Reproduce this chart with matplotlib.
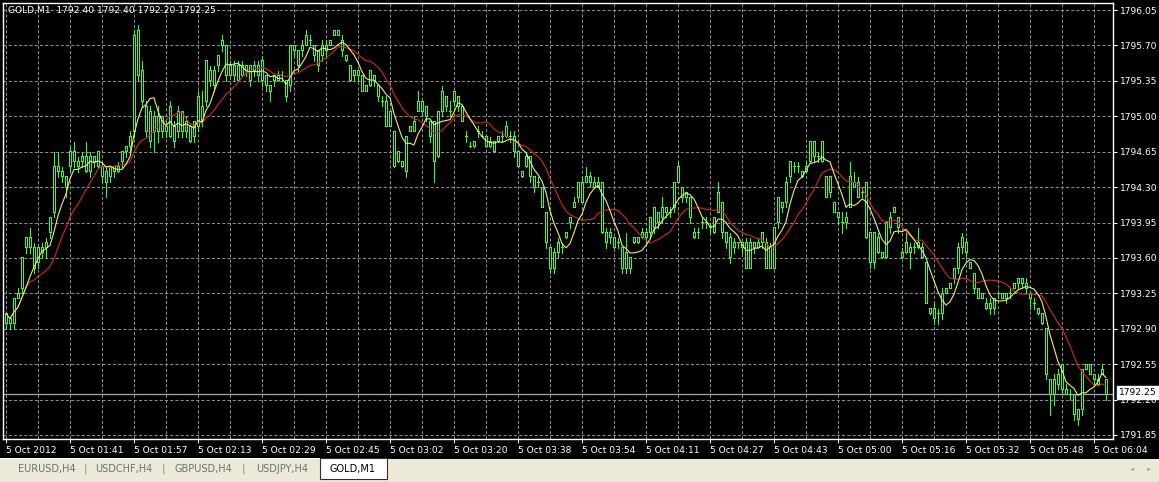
import numpy as np
import pandas as pd
import matplotlib
matplotlib.use("Agg")
import matplotlib.pyplot as plt
from matplotlib.patches import Rectangle

# GOLD M1 bars (one per minute)
opens = [
    1792.95, 1793.00, 1792.95, 1793.20, 1793.30, 1793.70, 1793.80, 1793.70, 1793.55, 1793.65,
    1793.70, 1793.85, 1794.05, 1794.50, 1794.45, 1794.40, 1794.50, 1794.65, 1794.55, 1794.55,
    1794.60, 1794.45, 1794.60, 1794.50, 1794.50, 1794.45, 1794.40, 1794.50, 1794.45, 1794.55,
    1794.65, 1794.70, 1794.85, 1795.85, 1795.45, 1795.10, 1794.75, 1795.00, 1794.85, 1795.00,
    1794.90, 1794.80, 1794.90, 1794.85, 1795.05, 1794.85, 1794.90, 1794.80, 1794.90, 1795.10,
    1795.15, 1795.45, 1795.30, 1795.50, 1795.70, 1795.70, 1795.40, 1795.50, 1795.35, 1795.50,
    1795.45, 1795.50, 1795.45, 1795.50, 1795.35, 1795.40, 1795.30, 1795.35, 1795.40, 1795.40,
    1795.35, 1795.30, 1795.70, 1795.65, 1795.65, 1795.70, 1795.75, 1795.70, 1795.65, 1795.60,
    1795.70, 1795.70, 1795.80, 1795.85, 1795.75, 1795.60, 1795.50, 1795.40, 1795.45, 1795.40,
    1795.30, 1795.30, 1795.40, 1795.30, 1795.15, 1795.15, 1794.90, 1794.85, 1794.55, 1794.55,
    1794.45, 1794.85, 1794.85, 1795.05, 1795.15, 1795.10, 1794.95, 1794.95, 1794.60, 1795.05,
    1795.20, 1795.05, 1795.15, 1795.20, 1795.10, 1794.80, 1794.70, 1794.75, 1794.85, 1794.80,
    1794.80, 1794.75, 1794.75, 1794.75, 1794.80, 1794.80, 1794.80, 1794.80, 1794.65, 1794.45,
    1794.50, 1794.60, 1794.40, 1794.35, 1794.30, 1794.05, 1793.70, 1793.50, 1793.65, 1793.70,
    1793.80, 1793.95, 1794.10, 1794.20, 1794.35, 1794.35, 1794.40, 1794.35, 1794.30, 1794.35,
    1793.85, 1793.85, 1793.80, 1793.75, 1793.70, 1793.50, 1793.60, 1793.75, 1793.80, 1793.80,
    1793.85, 1793.85, 1793.90, 1794.05, 1794.00, 1794.05, 1794.05, 1794.10, 1794.35, 1794.30,
    1794.20, 1794.20, 1793.85, 1793.85, 1793.95, 1793.95, 1793.90, 1793.85, 1794.05, 1794.15,
    1793.85, 1793.80, 1793.75, 1793.75, 1793.70, 1793.75, 1793.50, 1793.75, 1793.70, 1793.75,
    1793.75, 1793.50, 1793.50, 1793.95, 1794.15, 1794.15, 1794.40, 1794.50, 1794.50, 1794.45,
    1794.45, 1794.55, 1794.75, 1794.60, 1794.55, 1794.40, 1794.25, 1794.15, 1794.05, 1793.95,
    1793.95, 1794.10, 1794.35, 1794.35, 1794.25, 1794.35, 1793.85, 1793.55, 1793.80, 1793.65,
    1793.60, 1793.90, 1794.05, 1794.00, 1793.65, 1793.65, 1793.70, 1793.70, 1793.70, 1793.70,
    1793.55, 1793.10, 1793.10, 1793.05, 1793.05, 1793.25, 1793.30, 1793.40, 1793.50, 1793.70,
    1793.75, 1793.55, 1793.45, 1793.30, 1793.25, 1793.15, 1793.15, 1793.10, 1793.25, 1793.25,
    1793.20, 1793.25, 1793.30, 1793.35, 1793.40, 1793.35, 1793.25, 1793.15, 1793.10, 1793.05,
    1792.90, 1792.40, 1792.25, 1792.45, 1792.30, 1792.30, 1792.25, 1792.25, 1792.10, 1792.10,
    1792.50, 1792.55, 1792.45, 1792.40, 1792.45, 1792.40,
]
highs = [
    1793.05, 1793.00, 1793.20, 1793.30, 1793.60, 1793.80, 1793.90, 1793.75, 1793.70, 1793.75,
    1793.80, 1794.00, 1794.65, 1794.65, 1794.50, 1794.40, 1794.70, 1794.75, 1794.60, 1794.65,
    1794.75, 1794.65, 1794.60, 1794.65, 1794.55, 1794.50, 1794.50, 1794.50, 1794.55, 1794.65,
    1794.70, 1794.85, 1795.85, 1795.90, 1795.55, 1795.15, 1795.10, 1795.05, 1795.10, 1795.00,
    1794.95, 1795.15, 1794.95, 1795.10, 1795.05, 1795.00, 1794.90, 1794.95, 1795.25, 1795.25,
    1795.55, 1795.50, 1795.50, 1795.60, 1795.80, 1795.70, 1795.55, 1795.55, 1795.55, 1795.55,
    1795.50, 1795.50, 1795.55, 1795.55, 1795.60, 1795.40, 1795.30, 1795.40, 1795.45, 1795.45,
    1795.35, 1795.70, 1795.70, 1795.65, 1795.75, 1795.85, 1795.80, 1795.70, 1795.65, 1795.75,
    1795.75, 1795.75, 1795.85, 1795.85, 1795.80, 1795.60, 1795.50, 1795.45, 1795.45, 1795.40,
    1795.30, 1795.45, 1795.40, 1795.30, 1795.20, 1795.20, 1795.05, 1794.85, 1794.65, 1794.55,
    1794.80, 1794.90, 1795.00, 1795.25, 1795.15, 1795.10, 1794.95, 1794.95, 1795.05, 1795.30,
    1795.20, 1795.15, 1795.25, 1795.20, 1795.10, 1794.85, 1794.75, 1794.75, 1794.90, 1794.85,
    1794.80, 1794.80, 1794.75, 1794.80, 1794.85, 1794.95, 1794.85, 1794.85, 1794.65, 1794.45,
    1794.65, 1794.60, 1794.40, 1794.40, 1794.30, 1794.05, 1793.70, 1793.70, 1793.80, 1793.75,
    1793.85, 1794.00, 1794.20, 1794.35, 1794.40, 1794.50, 1794.45, 1794.40, 1794.40, 1794.35,
    1793.90, 1793.90, 1793.80, 1793.80, 1793.70, 1793.85, 1793.60, 1793.80, 1793.80, 1793.90,
    1793.90, 1794.00, 1794.10, 1794.05, 1794.20, 1794.10, 1794.10, 1794.35, 1794.55, 1794.30,
    1794.25, 1794.20, 1793.90, 1793.90, 1794.00, 1794.00, 1793.95, 1794.00, 1794.35, 1794.15,
    1793.85, 1793.85, 1793.80, 1793.75, 1793.75, 1793.80, 1793.80, 1793.75, 1793.80, 1793.85,
    1793.80, 1793.75, 1793.90, 1794.20, 1794.15, 1794.40, 1794.55, 1794.55, 1794.55, 1794.45,
    1794.55, 1794.75, 1794.75, 1794.65, 1794.75, 1794.40, 1794.40, 1794.15, 1794.05, 1794.05,
    1794.05, 1794.55, 1794.45, 1794.40, 1794.30, 1794.35, 1793.85, 1793.85, 1793.85, 1793.65,
    1793.95, 1794.05, 1794.10, 1794.00, 1793.70, 1793.85, 1793.75, 1793.75, 1793.90, 1793.75,
    1793.55, 1793.10, 1793.15, 1793.10, 1793.30, 1793.30, 1793.35, 1793.50, 1793.75, 1793.85,
    1793.80, 1793.55, 1793.45, 1793.30, 1793.25, 1793.20, 1793.20, 1793.20, 1793.25, 1793.25,
    1793.25, 1793.30, 1793.35, 1793.40, 1793.40, 1793.40, 1793.25, 1793.20, 1793.10, 1793.05,
    1792.90, 1792.40, 1792.45, 1792.50, 1792.55, 1792.35, 1792.30, 1792.25, 1792.10, 1792.50,
    1792.55, 1792.55, 1792.45, 1792.45, 1792.55, 1792.40,
]
lows = [
    1792.90, 1792.90, 1792.90, 1793.20, 1793.25, 1793.65, 1793.65, 1793.45, 1793.50, 1793.60,
    1793.60, 1793.80, 1794.00, 1794.40, 1794.35, 1794.20, 1794.45, 1794.50, 1794.45, 1794.50,
    1794.45, 1794.40, 1794.50, 1794.50, 1794.35, 1794.20, 1794.35, 1794.40, 1794.45, 1794.50,
    1794.60, 1794.65, 1794.80, 1795.35, 1795.10, 1794.80, 1794.70, 1794.65, 1794.75, 1794.80,
    1794.80, 1794.80, 1794.70, 1794.80, 1794.80, 1794.80, 1794.75, 1794.75, 1794.85, 1794.90,
    1795.10, 1795.30, 1795.25, 1795.45, 1795.65, 1795.35, 1795.40, 1795.35, 1795.35, 1795.40,
    1795.40, 1795.30, 1795.40, 1795.35, 1795.30, 1795.25, 1795.15, 1795.30, 1795.35, 1795.35,
    1795.15, 1795.25, 1795.60, 1795.45, 1795.60, 1795.70, 1795.70, 1795.55, 1795.45, 1795.55,
    1795.60, 1795.70, 1795.80, 1795.80, 1795.60, 1795.55, 1795.35, 1795.35, 1795.35, 1795.25,
    1795.25, 1795.30, 1795.30, 1795.15, 1795.10, 1794.90, 1794.90, 1794.50, 1794.55, 1794.50,
    1794.40, 1794.85, 1794.85, 1795.05, 1795.00, 1794.95, 1794.75, 1794.35, 1794.60, 1795.00,
    1795.05, 1795.00, 1795.10, 1795.05, 1794.95, 1794.75, 1794.70, 1794.70, 1794.80, 1794.80,
    1794.70, 1794.70, 1794.65, 1794.75, 1794.75, 1794.80, 1794.75, 1794.60, 1794.50, 1794.40,
    1794.50, 1794.35, 1794.25, 1794.30, 1794.10, 1793.70, 1793.45, 1793.45, 1793.60, 1793.65,
    1793.80, 1793.90, 1794.10, 1794.15, 1794.15, 1794.35, 1794.30, 1794.30, 1794.30, 1793.85,
    1793.70, 1793.75, 1793.70, 1793.70, 1793.45, 1793.45, 1793.45, 1793.75, 1793.75, 1793.80,
    1793.75, 1793.80, 1793.85, 1793.90, 1793.95, 1794.00, 1794.00, 1794.05, 1794.35, 1794.15,
    1794.15, 1793.95, 1793.80, 1793.80, 1793.90, 1793.90, 1793.85, 1793.85, 1794.05, 1793.80,
    1793.70, 1793.55, 1793.65, 1793.70, 1793.65, 1793.50, 1793.50, 1793.65, 1793.70, 1793.70,
    1793.50, 1793.50, 1793.50, 1793.90, 1794.05, 1794.10, 1794.35, 1794.45, 1794.45, 1794.40,
    1794.45, 1794.55, 1794.55, 1794.55, 1794.55, 1794.20, 1794.20, 1794.05, 1793.95, 1793.85,
    1793.90, 1794.10, 1794.30, 1794.20, 1794.20, 1793.80, 1793.50, 1793.50, 1793.65, 1793.60,
    1793.60, 1793.85, 1794.05, 1793.85, 1793.60, 1793.65, 1793.50, 1793.65, 1793.70, 1793.60,
    1793.15, 1793.05, 1792.95, 1792.95, 1793.00, 1793.25, 1793.30, 1793.35, 1793.45, 1793.65,
    1793.60, 1793.50, 1793.25, 1793.20, 1793.20, 1793.10, 1793.05, 1793.05, 1793.20, 1793.20,
    1793.15, 1793.20, 1793.30, 1793.30, 1793.30, 1793.25, 1793.10, 1793.10, 1793.05, 1792.95,
    1792.40, 1792.05, 1792.15, 1792.30, 1792.25, 1792.25, 1792.20, 1792.00, 1791.95, 1792.05,
    1792.50, 1792.45, 1792.35, 1792.35, 1792.45, 1792.20,
]
closes = [
    1793.05, 1792.95, 1793.20, 1793.25, 1793.60, 1793.80, 1793.70, 1793.50, 1793.70, 1793.70,
    1793.75, 1794.00, 1794.50, 1794.45, 1794.40, 1794.30, 1794.65, 1794.55, 1794.50, 1794.60,
    1794.45, 1794.60, 1794.55, 1794.65, 1794.40, 1794.35, 1794.50, 1794.45, 1794.50, 1794.65,
    1794.70, 1794.80, 1795.80, 1795.40, 1795.15, 1794.85, 1795.05, 1794.85, 1795.00, 1794.85,
    1794.85, 1795.10, 1794.75, 1795.05, 1794.85, 1794.95, 1794.75, 1794.95, 1795.20, 1794.95,
    1795.55, 1795.35, 1795.45, 1795.60, 1795.75, 1795.40, 1795.50, 1795.40, 1795.50, 1795.40,
    1795.50, 1795.35, 1795.50, 1795.40, 1795.55, 1795.30, 1795.25, 1795.40, 1795.35, 1795.40,
    1795.20, 1795.70, 1795.65, 1795.50, 1795.70, 1795.80, 1795.75, 1795.60, 1795.50, 1795.70,
    1795.65, 1795.75, 1795.85, 1795.80, 1795.65, 1795.55, 1795.35, 1795.45, 1795.40, 1795.25,
    1795.25, 1795.45, 1795.35, 1795.20, 1795.15, 1794.90, 1795.05, 1794.50, 1794.65, 1794.50,
    1794.80, 1794.90, 1794.95, 1795.15, 1795.05, 1795.00, 1794.80, 1794.55, 1795.05, 1795.25,
    1795.10, 1795.05, 1795.25, 1795.10, 1794.95, 1794.80, 1794.70, 1794.70, 1794.85, 1794.80,
    1794.70, 1794.70, 1794.65, 1794.80, 1794.80, 1794.90, 1794.80, 1794.65, 1794.50, 1794.40,
    1794.60, 1794.40, 1794.30, 1794.35, 1794.10, 1793.75, 1793.50, 1793.65, 1793.75, 1793.70,
    1793.85, 1794.00, 1794.15, 1794.35, 1794.15, 1794.40, 1794.35, 1794.30, 1794.35, 1793.85,
    1793.75, 1793.80, 1793.70, 1793.75, 1793.50, 1793.65, 1793.50, 1793.80, 1793.75, 1793.85,
    1793.80, 1794.00, 1794.10, 1793.95, 1794.10, 1794.10, 1794.05, 1794.35, 1794.50, 1794.20,
    1794.25, 1794.00, 1793.80, 1793.85, 1793.95, 1793.95, 1793.90, 1794.00, 1794.25, 1793.85,
    1793.75, 1793.60, 1793.70, 1793.75, 1793.75, 1793.50, 1793.75, 1793.70, 1793.75, 1793.85,
    1793.50, 1793.70, 1793.90, 1794.20, 1794.10, 1794.35, 1794.55, 1794.50, 1794.50, 1794.40,
    1794.50, 1794.75, 1794.60, 1794.60, 1794.75, 1794.20, 1794.40, 1794.05, 1794.00, 1793.95,
    1794.00, 1794.40, 1794.30, 1794.20, 1794.25, 1793.80, 1793.55, 1793.85, 1793.65, 1793.60,
    1793.95, 1794.00, 1794.10, 1793.90, 1793.60, 1793.75, 1793.65, 1793.70, 1793.75, 1793.60,
    1793.15, 1793.05, 1793.00, 1793.05, 1793.25, 1793.30, 1793.35, 1793.50, 1793.70, 1793.80,
    1793.65, 1793.50, 1793.30, 1793.20, 1793.20, 1793.10, 1793.10, 1793.20, 1793.25, 1793.20,
    1793.25, 1793.25, 1793.35, 1793.40, 1793.35, 1793.30, 1793.20, 1793.15, 1793.05, 1792.95,
    1792.45, 1792.25, 1792.40, 1792.35, 1792.55, 1792.25, 1792.25, 1792.05, 1792.00, 1792.50,
    1792.55, 1792.45, 1792.40, 1792.35, 1792.50, 1792.25,
]

time_labels = ["5 Oct 2012", "5 Oct 01:41", "5 Oct 01:57", "5 Oct 02:13", "5 Oct 02:29",
               "5 Oct 02:45", "5 Oct 03:02", "5 Oct 03:20", "5 Oct 03:38", "5 Oct 03:54",
               "5 Oct 04:11", "5 Oct 04:27", "5 Oct 04:43", "5 Oct 05:00", "5 Oct 05:16",
               "5 Oct 05:32", "5 Oct 05:48", "5 Oct 06:04"]
price_ticks = [1791.85, 1792.20, 1792.55, 1792.90, 1793.25, 1793.60, 1793.95,
               1794.30, 1794.65, 1795.00, 1795.35, 1795.70, 1796.05]
tabs = ["EURUSD,H4", "USDCHF,H4", "GBPUSD,H4", "USDJPY,H4", "GOLD,M1"]
symbol = "GOLD,M1"

FAST, SLOW = 6, 13
GREEN = "#33ff33"
GRID = "#8a8a8a"
FONT = "DejaVu Sans"

W, H = 1159, 482
YMIN, YMAX = 1791.81, 1796.12


def px_rect(x0, y0, w, h):
    # pixel box (top-left origin) -> figure fraction
    return [x0 / W, 1 - (y0 + h) / H, w / W, h / H]


fig = plt.figure(figsize=(W / 100, H / 100), dpi=100, facecolor="black")
ax = fig.add_axes(px_rect(3, 3, 1110, 436))
ax.set_facecolor("black")

o = np.array(opens)
c = np.array(closes)
x = np.arange(len(c))
ypx = (YMAX - YMIN) / 436  # price per pixel

# candles: 1px wicks, 3px bodies with a 1px black core
top = np.maximum(o, c)
bot = np.minimum(o, c)
ax.vlines(x, lows, highs, color=GREEN, lw=0.72, zorder=3, antialiased=False)
ax.bar(x, top - bot + ypx, bottom=bot - ypx / 2, width=0.75, color=GREEN,
       linewidth=0, zorder=4, antialiased=False)
core = (top - bot) > 2 * ypx
ax.bar(x[core], (top - bot - ypx)[core], bottom=(bot + ypx / 2)[core], width=0.25,
       color="black", linewidth=0, zorder=4.5, antialiased=False)

# moving averages
s = pd.Series(c)
ax.plot(x, s.rolling(SLOW, min_periods=1).mean(), color="#d42a1e", lw=0.8, zorder=5)
ax.plot(x, s.rolling(FAST, min_periods=1).mean(), color="#f2ec6a", lw=0.8, zorder=6)

# last price line
ax.axhline(closes[-1], color="#a8a8a8", lw=0.9, zorder=2)

ax.set_xlim(-0.75, 276.75)
ax.set_ylim(YMIN, YMAX)

ax.set_xticks(range(0, len(c), 16))
ax.set_xticks(range(8, len(c), 16), minor=True)
ax.set_xticklabels(time_labels, ha="left", fontsize=6.6, family=FONT, color="white")
ax.set_yticks(price_ticks)
ax.set_yticklabels([f"{p:.2f}" for p in price_ticks], fontsize=6.6, family=FONT, color="white")
ax.yaxis.tick_right()
ax.tick_params(axis="x", which="major", colors="white", length=3, width=0.8, pad=2)
ax.tick_params(axis="x", which="minor", length=0)
ax.tick_params(axis="y", colors="white", length=3, width=0.8, pad=2)
ax.grid(True, which="both", color=GRID, ls=(0, (3, 2)), lw=0.75)
ax.set_axisbelow(True)
for sp in ax.spines.values():
    sp.set_color("white")
    sp.set_linewidth(1.0)

# last price box on the scale
ax.text(1 + 6 / 1110, closes[-1] + 0.02, f"{closes[-1]:.2f}",
        transform=ax.get_yaxis_transform(),
        ha="left", va="center", fontsize=6.6, family=FONT, color="black", zorder=10,
        clip_on=False,
        bbox=dict(boxstyle="square,pad=0.25", facecolor="white", edgecolor="white"))

# header text
fig.text(8 / W, 1 - 10 / H,
         f"{symbol}  {opens[-1]:.2f} {highs[-1]:.2f} {lows[-1]:.2f} {closes[-1]:.2f}",
         ha="left", va="center", fontsize=6.6, family=FONT, color="white")

# tab strip at the bottom
fig.patches.append(Rectangle((0, 0), 1, 23 / H, transform=fig.transFigure,
                             facecolor="#ece9d8", edgecolor="none"))
fig.patches.append(Rectangle((0, 23 / H), 320 / W, 1 / H, transform=fig.transFigure,
                             facecolor="white", edgecolor="none"))
fig.patches.append(Rectangle((320 / W, 3 / H), 67 / W, 21 / H, transform=fig.transFigure,
                             facecolor="white", edgecolor="#303030", lw=0.8))
tab_x = [47, 124, 203, 282, 353]
for name, tx in zip(tabs, tab_x):
    active = name == symbol
    fig.text(tx / W, 1 - 469 / H, name, ha="center", va="center", fontsize=7,
             family=FONT, color="black" if active else "#707070")
for sx in [85, 163, 243]:
    fig.text(sx / W, 1 - 469 / H, "|", ha="center", va="center", fontsize=8,
             family=FONT, color="#8a8a8a")
fig.text(1132 / W, 1 - 469 / H, "\u25c4", ha="center", va="center", fontsize=4,
         color="#a0a0a0")
fig.text(1149 / W, 1 - 469 / H, "\u25ba", ha="center", va="center", fontsize=4,
         color="#a0a0a0")

fig.savefig("out.png", dpi=100, facecolor=fig.get_facecolor())
